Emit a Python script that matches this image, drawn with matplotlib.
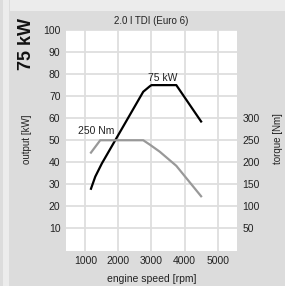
import matplotlib.pyplot as plt
from matplotlib.patches import Rectangle

# engine curves
power_rpm = [1170, 1300, 1500, 2750, 2950, 3000, 3750, 4500]
power_kw = [28, 33.5, 39.5, 72, 74.5, 75, 75, 58.5]

torque_rpm = [1170, 1450, 2750, 2950, 3250, 3750, 4500]
torque_nm = [222, 250, 250, 240, 224, 192, 123]

kw_ticks = [10, 20, 30, 40, 50, 60, 70, 80, 90, 100]
nm_ticks = [50, 100, 150, 200, 250, 300]
rpm_ticks = [1000, 2000, 3000, 4000, 5000]

plt.rcParams['font.family'] = ['Liberation Sans', 'DejaVu Sans']

fig = plt.figure(figsize=(2.85, 2.86), dpi=100)
fig.patch.set_facecolor('#dcdcdc')

# background bands
fig.patches.append(Rectangle((3 / 285, 0), 6 / 285, 1, transform=fig.transFigure,
                             facecolor='#ececec', edgecolor='none', zorder=0))
fig.patches.append(Rectangle((10 / 285, 1 - 11 / 286), 1, 11 / 286, transform=fig.transFigure,
                             facecolor='#ececec', edgecolor='none', zorder=0))

ax = fig.add_axes([66 / 285, 35.5 / 286, 171 / 285, 220.5 / 286])
ax.set_facecolor('white')
ax.set_xlim(415, 5585)
ax.set_ylim(0, 100)
ax.set_xticks(rpm_ticks)
ax.set_yticks(kw_ticks)
ax.grid(True, color='#dedede', linewidth=1.3)
ax.set_axisbelow(True)
for s in ax.spines.values():
    s.set_visible(False)
ax.tick_params(length=0, labelsize=7.5, pad=4, colors='#222222')

ax.plot(power_rpm, power_kw, color='black', linewidth=1.6, zorder=3)

ax2 = ax.twinx()
ax2.set_ylim(0, 500)
ax2.set_yticks(nm_ticks)
for s in ax2.spines.values():
    s.set_visible(False)
ax2.tick_params(length=0, labelsize=7.5, pad=4, colors='#222222')
ax2.plot(torque_rpm, torque_nm, color='#999999', linewidth=1.6, zorder=2)

ax.set_title('2.0 l TDI (Euro 6)', fontsize=7, pad=4, color='#222222')
ax.set_xlabel('engine speed [rpm]', fontsize=7.5, labelpad=6, color='#222222')
ax.set_ylabel('output [kW]', fontsize=7, color='#222222')
ax.yaxis.set_label_coords(-0.2, 0.506)
ax2.set_ylabel('torque [Nm]', fontsize=7, color='#222222')
ax2.yaxis.set_label_coords(1.21, 0.506)

ax.text(3330, 78.3, '75 kW', fontsize=7.5, ha='center', va='center', color='#222222')
ax.text(1330, 54, '250 Nm', fontsize=7.5, ha='center', va='center', color='#222222')

fig.text(26.5 / 285, 1 - 44 / 286, '75 kW', rotation=90, fontsize=13, fontweight='bold',
         ha='center', va='center', color='#111111')

fig.savefig('out.png', dpi=100, facecolor=fig.get_facecolor())
